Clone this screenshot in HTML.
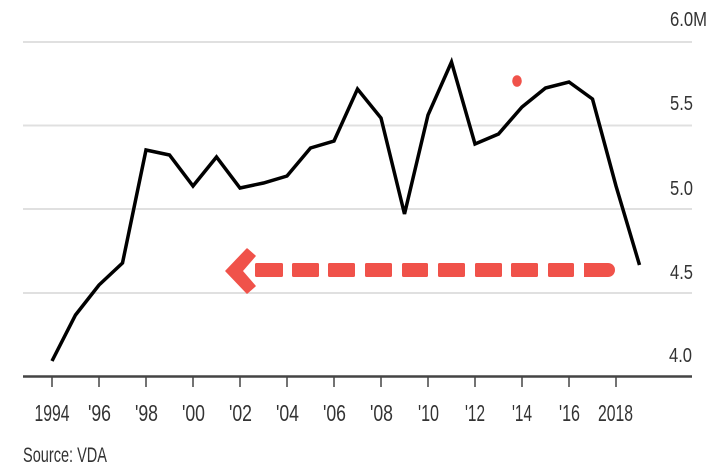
<!DOCTYPE html>
<html>
<head>
<meta charset="utf-8">
<style>
  html,body{margin:0;padding:0;background:#fff;}
  svg{display:block;}
  text{font-family:"Liberation Sans",Arial,sans-serif;fill:#333;}
</style>
</head>
<body>
<svg width="728" height="472" viewBox="0 0 728 472" xmlns="http://www.w3.org/2000/svg">
  <rect width="728" height="472" fill="#fff"/>
  <!-- gridlines -->
  <g stroke="#e0e0e0" stroke-width="2">
    <line x1="23" y1="42" x2="692" y2="42"/>
    <line x1="23" y1="125.5" x2="692" y2="125.5"/>
    <line x1="23" y1="209" x2="692" y2="209"/>
    <line x1="23" y1="293" x2="692" y2="293"/>
  </g>
  <!-- axis -->
  <line x1="23" y1="376.5" x2="692" y2="376.5" stroke="#444" stroke-width="2.5"/>
  <g stroke="#444" stroke-width="1.5">
    <line x1="52" y1="377" x2="52" y2="387"/>
    <line x1="99" y1="377" x2="99" y2="387"/>
    <line x1="146" y1="377" x2="146" y2="387"/>
    <line x1="193" y1="377" x2="193" y2="387"/>
    <line x1="240" y1="377" x2="240" y2="387"/>
    <line x1="287" y1="377" x2="287" y2="387"/>
    <line x1="334" y1="377" x2="334" y2="387"/>
    <line x1="381" y1="377" x2="381" y2="387"/>
    <line x1="428" y1="377" x2="428" y2="387"/>
    <line x1="475" y1="377" x2="475" y2="387"/>
    <line x1="522" y1="377" x2="522" y2="387"/>
    <line x1="569" y1="377" x2="569" y2="387"/>
    <line x1="616" y1="377" x2="616" y2="387"/>
  </g>
  <!-- y labels -->
  <g font-size="20">
    <text x="670" y="26" textLength="37" lengthAdjust="spacingAndGlyphs">6.0M</text>
    <text x="670" y="110" textLength="23" lengthAdjust="spacingAndGlyphs">5.5</text>
    <text x="670" y="195" textLength="23" lengthAdjust="spacingAndGlyphs">5.0</text>
    <text x="670" y="279" textLength="23" lengthAdjust="spacingAndGlyphs">4.5</text>
    <text x="669" y="362" textLength="23" lengthAdjust="spacingAndGlyphs">4.0</text>
  </g>
  <!-- x labels -->
  <g font-size="23">
    <text x="34.5" y="421" textLength="35" lengthAdjust="spacingAndGlyphs">1994</text>
    <text x="88" y="421" textLength="23" lengthAdjust="spacingAndGlyphs">'96</text>
    <text x="135" y="421" textLength="23" lengthAdjust="spacingAndGlyphs">'98</text>
    <text x="182" y="421" textLength="23" lengthAdjust="spacingAndGlyphs">'00</text>
    <text x="229" y="421" textLength="23" lengthAdjust="spacingAndGlyphs">'02</text>
    <text x="276" y="421" textLength="23" lengthAdjust="spacingAndGlyphs">'04</text>
    <text x="323" y="421" textLength="23" lengthAdjust="spacingAndGlyphs">'06</text>
    <text x="370" y="421" textLength="23" lengthAdjust="spacingAndGlyphs">'08</text>
    <text x="418" y="421" textLength="21" lengthAdjust="spacingAndGlyphs">'10</text>
    <text x="465" y="421" textLength="20" lengthAdjust="spacingAndGlyphs">'12</text>
    <text x="512" y="421" textLength="20" lengthAdjust="spacingAndGlyphs">'14</text>
    <text x="559" y="421" textLength="21" lengthAdjust="spacingAndGlyphs">'16</text>
    <text x="598" y="421" textLength="35" lengthAdjust="spacingAndGlyphs">2018</text>
  </g>
  <text x="23" y="462" font-size="21" textLength="84" lengthAdjust="spacingAndGlyphs">Source: VDA</text>
  <!-- series -->
  <polyline fill="none" stroke="#000" stroke-width="3.5" stroke-linejoin="miter" stroke-linecap="butt"
    points="52,361 75.5,315 99,285 122.5,263 146,150 169.5,155 193,186 216.5,157 240,188 263.5,183 287,176 310.5,148 334,141 357.5,89 381,118 404.5,214 428,115 451.5,62 475,144 498.5,134 522,107 545.5,88 569,82 592.5,99 616,186 639.5,265"/>
  <!-- red dot -->
  <ellipse cx="517" cy="81" rx="4.8" ry="5.8" fill="#f0524a"/>
  <!-- dashed arrow -->
  <g fill="#f0524a">
    <polygon points="226,271 247,249 255,256 242,271 255,286 247,293" stroke="#f0524a" stroke-width="1.5" stroke-linejoin="round"/>
    <rect x="255" y="263" width="28" height="14" rx="1.5"/>
    <rect x="292" y="263" width="27" height="14" rx="1.5"/>
    <rect x="328" y="263" width="27" height="14" rx="1.5"/>
    <rect x="365" y="263" width="27" height="14" rx="1.5"/>
    <rect x="402" y="263" width="26" height="14" rx="1.5"/>
    <rect x="438" y="263" width="27" height="14" rx="1.5"/>
    <rect x="475" y="263" width="27" height="14" rx="1.5"/>
    <rect x="511" y="263" width="27" height="14" rx="1.5"/>
    <rect x="548" y="263" width="26" height="14" rx="1.5"/>
    <path d="M584,263 L608,263 A7,7 0 0 1 608,277 L584,277 Z"/>
  </g>
</svg>
</body>
</html>
